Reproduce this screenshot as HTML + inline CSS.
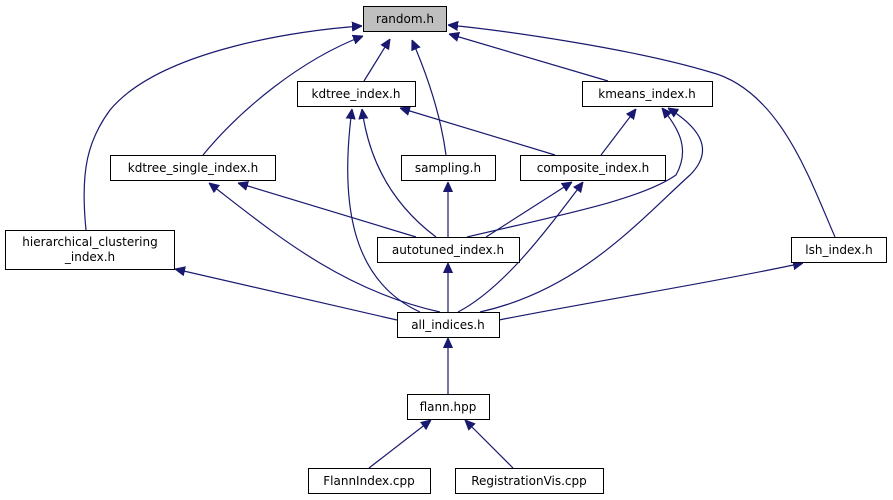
<!DOCTYPE html>
<html><head><meta charset="utf-8"><style>
html,body{margin:0;padding:0;background:#fff;width:893px;height:500px;overflow:hidden}
text{font-family:"DejaVu Sans","Liberation Sans",sans-serif;font-size:12px;fill:#000}
</style></head><body>
<svg width="893" height="500" viewBox="0 0 893 500" xmlns="http://www.w3.org/2000/svg">
<defs><marker id="a" viewBox="0 0 10 10" refX="10" refY="5" markerWidth="10" markerHeight="10" markerUnits="userSpaceOnUse" orient="auto"><path d="M0,0.5 L10,5 L0,9.5 z" fill="#191970" stroke="#191970"/></marker></defs>
<g fill="none" stroke="#191970" stroke-width="1.2" marker-end="url(#a)">
<path d="M86,230 C80,170 88,140 110,110 C160,50 300,30 362,26"/>
<path d="M203,155 C240,110 300,60 363,36"/>
<path d="M364,81 L390,39"/>
<path d="M446,155 C440,110 425,70 412,40"/>
<path d="M608,81 L449,34"/>
<path d="M835,237 C810,180 780,90 710,72 C630,48 500,30 448,25"/>
<path d="M555,155 L400,108"/>
<path d="M601,155 L636,109"/>
<path d="M436,237 C400,210 370,170 362,109"/>
<path d="M467,237 C560,215 640,200 676,175 C690,150 680,130 662,108"/>
<path d="M416,237 L238,183"/>
<path d="M448,237 L448,182"/>
<path d="M486,237 L572,182"/>
<path d="M420,312 C350,280 340,200 352,109"/>
<path d="M440,312 C340,290 270,230 209,183"/>
<path d="M448,312 L448,263"/>
<path d="M458,312 C500,290 540,240 583,182"/>
<path d="M480,312 C580,290 640,220 690,175 C715,150 700,128 668,108"/>
<path d="M397,320 L175,269"/>
<path d="M499,320 C600,300 700,285 803,263"/>
<path d="M448,394 L448,338"/>
<path d="M369,468 L431,420"/>
<path d="M513,468 L465,420"/>
</g>
<g stroke-width="1" stroke="#000" fill="#fff">
<rect x="363.5" y="6.5" width="83" height="25" fill="#bfbfbf"/>
<rect x="297.5" y="81.5" width="118" height="25"/>
<rect x="582.5" y="81.5" width="130" height="25"/>
<rect x="110.5" y="155.5" width="165" height="25"/>
<rect x="401.5" y="155.5" width="94" height="25"/>
<rect x="520.5" y="155.5" width="145" height="25"/>
<rect x="5.5" y="230.5" width="169" height="39"/>
<rect x="377.5" y="237.5" width="142" height="25"/>
<rect x="791.5" y="237.5" width="95" height="25"/>
<rect x="397.5" y="312.5" width="102" height="25"/>
<rect x="407.5" y="394.5" width="82" height="25"/>
<rect x="308.5" y="468.5" width="122" height="25"/>
<rect x="455.5" y="468.5" width="148" height="25"/>
</g>
<g text-anchor="middle">
<text x="405" y="23">random.h</text>
<text x="356" y="98">kdtree_index.h</text>
<text x="647" y="98">kmeans_index.h</text>
<text x="193" y="172">kdtree_single_index.h</text>
<text x="448" y="172">sampling.h</text>
<text x="593" y="172">composite_index.h</text>
<text x="90" y="246">hierarchical_clustering</text>
<text x="90" y="261">_index.h</text>
<text x="448" y="254">autotuned_index.h</text>
<text x="839" y="254">lsh_index.h</text>
<text x="448" y="329">all_indices.h</text>
<text x="448" y="411">flann.hpp</text>
<text x="369" y="485">FlannIndex.cpp</text>
<text x="529" y="485">RegistrationVis.cpp</text>
</g>
</svg>
</body></html>
